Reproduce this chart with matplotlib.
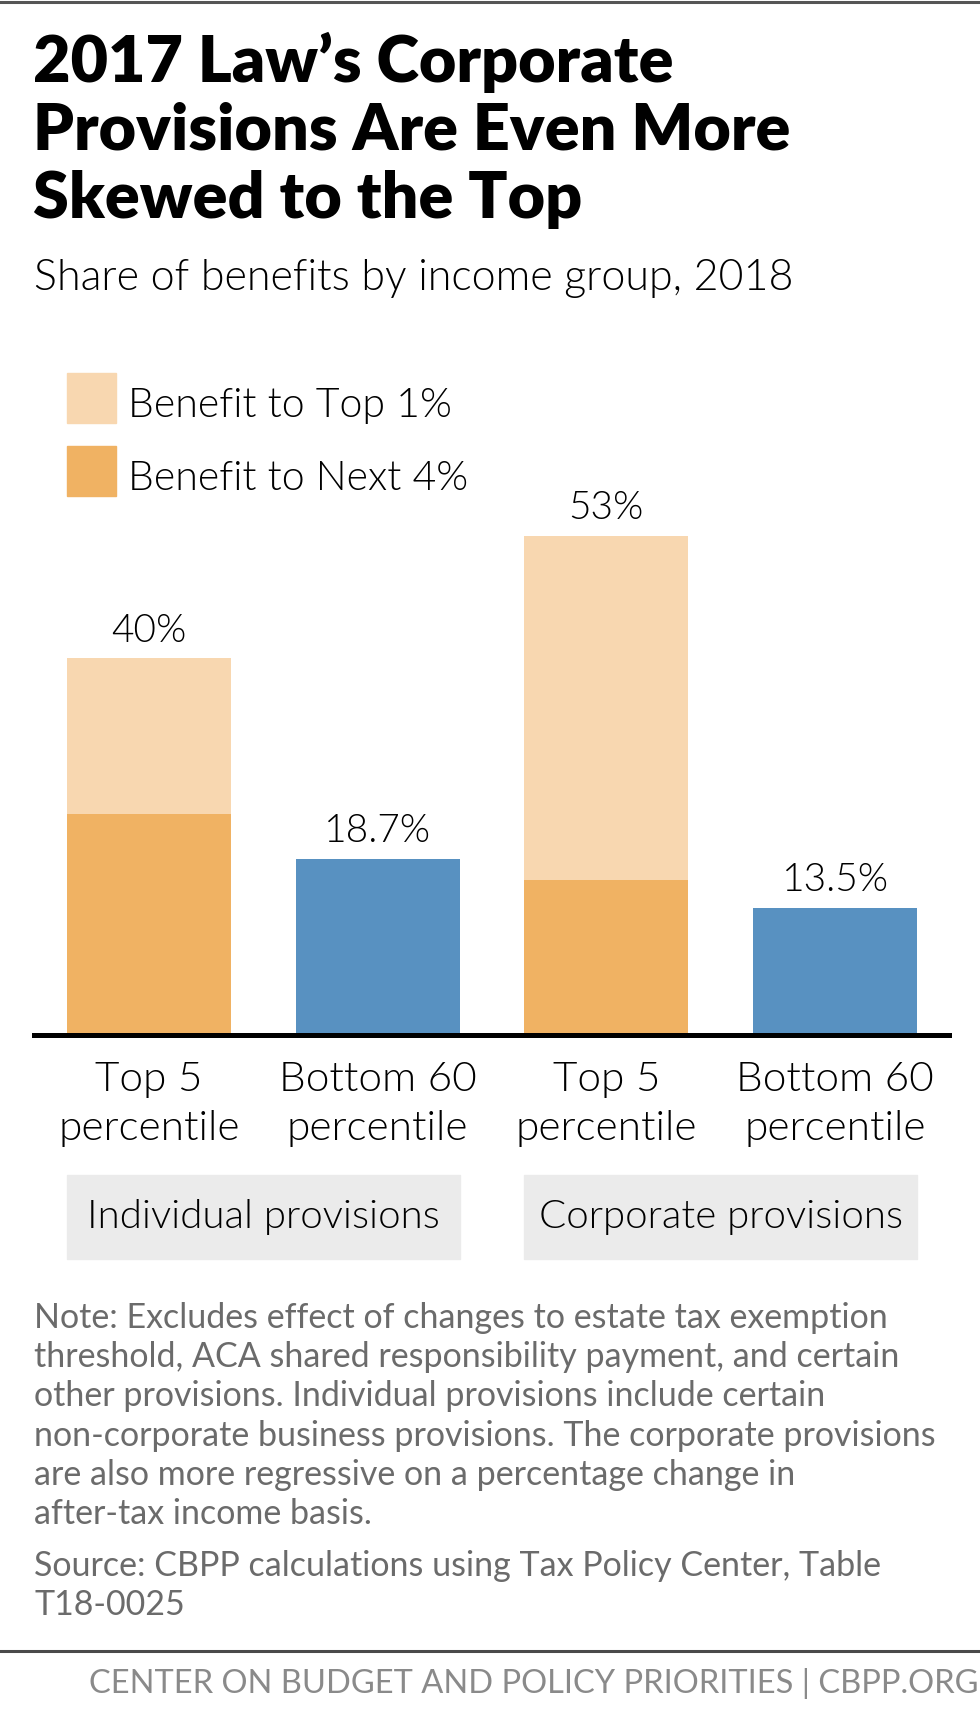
import matplotlib.pyplot as plt
from matplotlib.patches import Rectangle
from matplotlib.lines import Line2D
from matplotlib.transforms import blended_transform_factory

W, H = 980, 1732

# data
categories = ["Top 5\npercentile", "Bottom 60\npercentile", "Top 5\npercentile", "Bottom 60\npercentile"]
groups = ["Individual provisions", "Corporate provisions"]
top5_x = [0, 2]
next4 = [23.5, 16.5]
top1 = [16.5, 36.5]
bottom_x = [1, 3]
bottom60 = [18.7, 13.5]

title_lines = ["2017 Law\u2019s Corporate", "Provisions Are Even More", "Skewed to the Top"]
subtitle = "Share of benefits by income group, 2018"
note_lines = [
    "Note: Excludes effect of changes to estate tax exemption",
    "threshold, ACA shared responsibility payment, and certain",
    "other provisions. Individual provisions include certain",
    "non-corporate business provisions. The corporate provisions",
    "are also more regressive on a percentage change in",
    "after-tax income basis.",
]
source_lines = ["Source: CBPP calculations using Tax Policy Center, Table", "T18-0025"]
footer = "CENTER ON BUDGET AND POLICY PRIORITIES | CBPP.ORG"

LIGHT = "#f8d7b0"
DARK = "#f0b263"
BLUE = "#5891c1"
BOX = "#ebebeb"
THIN = 300

plt.rcParams['font.family'] = ['Lato', 'DejaVu Sans']


def fx(x):
    return x / W


def fy(y):
    return 1 - y / H


fig = plt.figure(figsize=(W / 100, H / 100), dpi=100)
fig.patch.set_facecolor('white')

# frame lines
fig.add_artist(Line2D([0, 1], [fy(1.5), fy(1.5)], color='#555555', lw=2.2))
fig.add_artist(Line2D([0, 1], [fy(1651), fy(1651)], color='#4a4a4a', lw=2.2))

# title block
for i, line in enumerate(title_lines):
    fig.text(fx(33), fy(82 + i * 68), line, fontsize=46.5, fontweight='heavy', va='baseline', color='black')
fig.text(fx(34), fy(290), subtitle, fontsize=31, fontweight=THIN, va='baseline', color='black')

# bars
ax_top, ax_bot = 340, 1035
px_per_pct = 9.42
ax = fig.add_axes([fx(34), fy(ax_bot), fx(949) - fx(34), (ax_bot - ax_top) / H])
ax.set_xlim(-0.503, 3.498)
ax.set_ylim(0, (ax_bot - ax_top) / px_per_pct)
bw = 0.717
ax.bar(top5_x, next4, width=bw, color=DARK)
ax.bar(top5_x, top1, width=bw, bottom=next4, color=LIGHT)
ax.bar(bottom_x, bottom60, width=bw, color=BLUE)

for x, a, b in zip(top5_x, next4, top1):
    ax.annotate(f"{a + b:g}%", (x, a + b), xytext=(0, 12), textcoords='offset points',
                ha='center', va='baseline', fontsize=28, fontweight=THIN)
for x, v in zip(bottom_x, bottom60):
    ax.annotate(f"{v:g}%", (x, v), xytext=(0, 12), textcoords='offset points',
                ha='center', va='baseline', fontsize=28, fontweight=THIN)

for s in ['top', 'right', 'left']:
    ax.spines[s].set_visible(False)
ax.spines['bottom'].set_linewidth(3.6)
ax.spines['bottom'].set_color('black')
ax.set_yticks([])
ax.set_xticks(range(len(categories)))
ax.set_xticklabels(categories, fontsize=30.5, fontweight=THIN, linespacing=1.4)
ax.tick_params(axis='x', length=0, pad=19)

# legend: squares next to labels
legend_items = [("Benefit to Top 1%", LIGHT, 373), ("Benefit to Next 4%", DARK, 446)]
for text, col, ytop in legend_items:
    fig.patches.append(Rectangle((fx(67), fy(ytop + 50)), 49 / W, 50 / H, transform=fig.transFigure,
                                 color=col, figure=fig))
    fig.text(fx(128), fy(ytop + 44), text, fontsize=29.5, fontweight=THIN, va='baseline')

# group boxes under the tick labels
tr = blended_transform_factory(ax.transData, fig.transFigure)
for gi, name in enumerate(groups):
    x0 = gi * 2 - bw / 2
    x1 = gi * 2 + 1 + bw / 2
    ax.add_patch(Rectangle((x0, fy(1259)), x1 - x0, 84 / H, transform=tr, color=BOX, clip_on=False))
    ax.text((x0 + x1) / 2, fy(1228), name, transform=tr, ha='center', va='baseline',
            fontsize=29, fontweight=THIN)

# notes
for i, line in enumerate(note_lines):
    fig.text(fx(34), fy(1328 + i * 39.2), line, fontsize=24.5, color='#6b6b6b', va='baseline')
for i, line in enumerate(source_lines):
    fig.text(fx(34), fy(1576 + i * 39), line, fontsize=24.5, color='#6b6b6b', va='baseline')

fig.text(fx(978), fy(1693), footer, fontsize=23.5, color='#8a8a8a', ha='right', va='baseline')

fig.savefig('out.png', dpi=100, facecolor='white')
